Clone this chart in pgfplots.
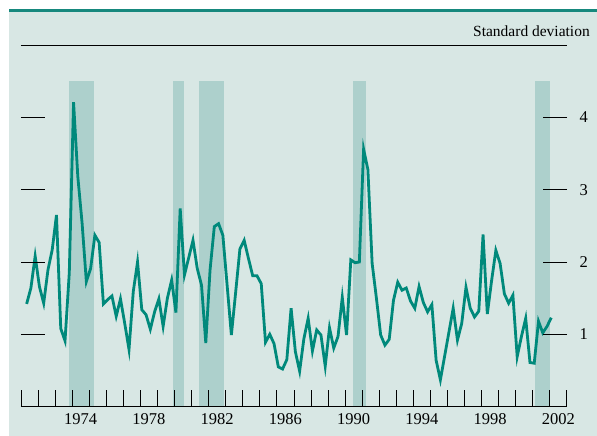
\documentclass[border=0pt]{standalone}
\usepackage{fontspec}
\setmainfont{Liberation Serif}
\usepackage{pgfplots}
\pgfplotsset{compat=1.18}
\definecolor{bg}{HTML}{D8E7E4}
\definecolor{band}{HTML}{ADD0CC}
\definecolor{serie}{HTML}{00897B}
\definecolor{topline}{HTML}{16887D}
\begin{document}
\begin{tikzpicture}[x=1pt,y=1pt]
\useasboundingbox (-21,-29.4) rectangle (576,406.6);
\fill[white] (-21,-29.4) rectangle (576,406.6);
\fill[bg] (-12,-29.4) rectangle (576,397);
\draw[topline, line width=3pt] (-12,396) -- (576,396);
\begin{axis}[
  at={(0pt,0pt)}, anchor=south west,
  scale only axis, width=546pt, height=361.5pt,
  xmin=1971, xmax=2003, ymin=0, ymax=5,
  axis on top,
  separate axis lines,
  x axis line style={black, line width=1.1pt},
  y axis line style={draw=none},
  xtick={1971,...,2003}, xticklabels={},
  xtick pos=left,
  tick align=inside,
  xtick style={black, line width=0.9pt, /pgfplots/major tick length=17pt},
  ytick={1,2,3,4}, ytick pos=both, yticklabel pos=right,
  ytick style={black, line width=0.9pt, /pgfplots/major tick length=24pt},
  extra x ticks={1974.5,1978.5,1982.5,1986.5,1990.5,1994.5,1998.5,2002.5},
  extra x tick labels={1974,1978,1982,1986,1990,1994,1998,2002},
  extra x tick style={xtick style={draw=none, /pgfplots/major tick length=0pt}},
  ticklabel style={font=\fontsize{16.5}{18}\selectfont},
  /pgf/number format/assume math mode=true,
  yticklabel style={xshift=9pt},
  xticklabel style={yshift=-3pt},
]
\addplot[fill=band, draw=none] coordinates {(1973.83,4.5) (1975.25,4.5)} \closedcycle;
\addplot[fill=band, draw=none] coordinates {(1979.92,4.5) (1980.55,4.5)} \closedcycle;
\addplot[fill=band, draw=none] coordinates {(1981.45,4.5) (1982.90,4.5)} \closedcycle;
\addplot[fill=band, draw=none] coordinates {(1990.47,4.5) (1991.22,4.5)} \closedcycle;
\addplot[fill=band, draw=none] coordinates {(2001.13,4.5) (2001.98,4.5)} \closedcycle;
\addplot[serie, line width=2.8pt] coordinates {
(1971.33,1.42) (1971.58,1.64) (1971.83,2.08) (1972.08,1.66) (1972.33,1.43) (1972.58,1.89) (1972.83,2.17) (1973.08,2.65)
(1973.33,1.08) (1973.58,0.91) (1973.83,1.85) (1974.08,4.21) (1974.33,3.18) (1974.58,2.54) (1974.83,1.73) (1975.08,1.91)
(1975.33,2.37) (1975.58,2.27) (1975.83,1.42) (1976.08,1.48) (1976.33,1.53) (1976.58,1.25) (1976.83,1.49) (1977.08,1.15)
(1977.33,0.79) (1977.58,1.59) (1977.83,2.00) (1978.08,1.34) (1978.33,1.27) (1978.58,1.07) (1978.83,1.31) (1979.08,1.49)
(1979.33,1.11) (1979.58,1.50) (1979.83,1.75) (1980.08,1.30) (1980.33,2.74) (1980.58,1.82) (1980.83,2.06) (1981.08,2.30)
(1981.33,1.91) (1981.58,1.68) (1981.83,0.88) (1982.08,1.89) (1982.33,2.49) (1982.58,2.53) (1982.83,2.37) (1983.08,1.68)
(1983.33,0.99) (1983.58,1.58) (1983.83,2.18) (1984.08,2.30) (1984.33,2.05) (1984.58,1.81) (1984.83,1.81) (1985.08,1.70)
(1985.33,0.89) (1985.58,1.00) (1985.83,0.87) (1986.08,0.55) (1986.33,0.52) (1986.58,0.65) (1986.83,1.36) (1987.08,0.76)
(1987.33,0.49) (1987.58,0.94) (1987.83,1.22) (1988.08,0.77) (1988.33,1.06) (1988.58,0.99) (1988.83,0.56) (1989.08,1.09)
(1989.33,0.81) (1989.58,0.97) (1989.83,1.51) (1990.08,0.99) (1990.33,2.03) (1990.58,1.99) (1990.83,2.00) (1991.08,3.56)
(1991.33,3.28) (1991.58,1.98) (1991.83,1.50) (1992.08,0.99) (1992.33,0.85) (1992.58,0.93) (1992.83,1.47) (1993.08,1.72)
(1993.33,1.61) (1993.58,1.64) (1993.83,1.46) (1994.08,1.36) (1994.33,1.66) (1994.58,1.44) (1994.83,1.31) (1995.08,1.41)
(1995.33,0.64) (1995.58,0.37) (1995.83,0.70) (1996.08,1.03) (1996.33,1.36) (1996.58,0.92) (1996.83,1.15) (1997.08,1.65)
(1997.33,1.36) (1997.58,1.24) (1997.83,1.32) (1998.08,2.38) (1998.33,1.28) (1998.58,1.74) (1998.83,2.16) (1999.08,1.98)
(1999.33,1.56) (1999.58,1.43) (1999.83,1.54) (2000.08,0.69) (2000.33,0.97) (2000.58,1.22) (2000.83,0.61) (2001.08,0.60)
(2001.33,1.18) (2001.58,1.02) (2001.83,1.11) (2002.08,1.23)
};
\end{axis}
\node[anchor=base east, inner sep=0pt, font=\fontsize{15.5}{18}\selectfont] at (569,370) {Standard deviation};
\end{tikzpicture}
\end{document}
